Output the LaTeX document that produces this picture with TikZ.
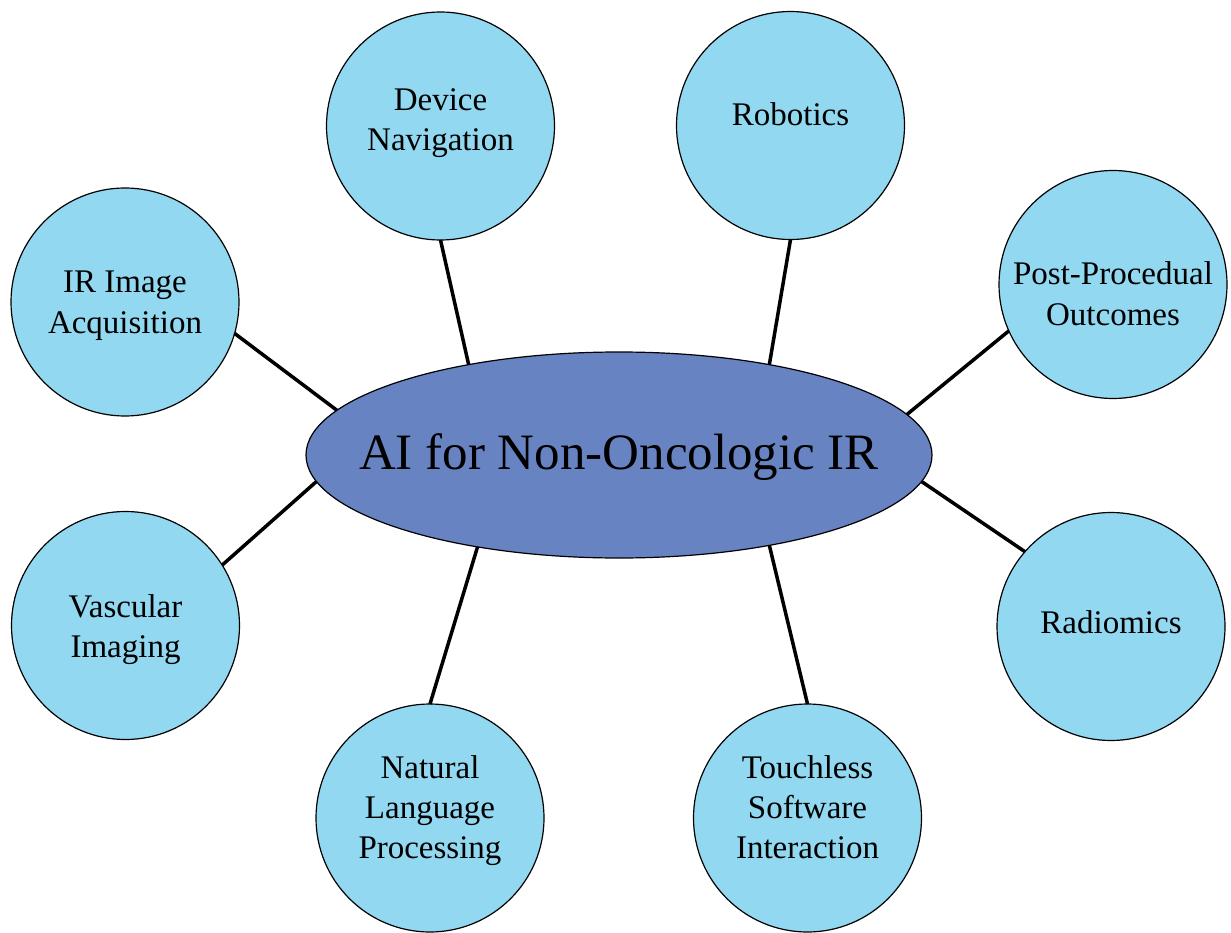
\documentclass[tikz,border=0pt]{standalone}
\usepackage{fontspec}
\setmainfont{Liberation Serif}
\usetikzlibrary{shapes.geometric}
\definecolor{topicfill}{HTML}{92D8F0}
\definecolor{corefill}{HTML}{6783C2}
\begin{document}
\begin{tikzpicture}[x=1pt,y=-1pt,
  topic/.style={circle,draw=black,line width=1.2pt,fill=topicfill,
    minimum size=228pt,inner sep=0pt,outer sep=0pt},
  core/.style={ellipse,draw=black,line width=1.2pt,fill=corefill,
    minimum width=626pt,minimum height=206pt,inner sep=0pt,outer sep=0pt},
  topictext/.style={align=center,inner sep=0pt,
    font=\fontsize{33}{40}\selectfont},
  coretext/.style={inner sep=0pt,font=\fontsize{51}{61}\selectfont},
  link/.style={draw=black,line width=3.5pt}]
\useasboundingbox (0,0) rectangle (1231,933);

% central topic
\node[core] (ai) at (619,455) {};
\node[coretext] (aitext) at (619,456.8) {\strut AI for Non-Oncologic IR};

% surrounding topics
\node[topic] (dev)  at (440.5,126)   {};
\node[topic] (rob)  at (790.5,125.5) {};
\node[topic] (ira)  at (125,302)     {};
\node[topic] (post) at (1113,284.5)  {};
\node[topic] (vas)  at (125.5,625.5) {};
\node[topic] (rad)  at (1111,626.5)  {};
\node[topic] (nlp)  at (430,818)     {};
\node[topic] (tsi)  at (807.5,818)   {};

\node[topictext] (devtext)  at (440.5,123) {\strut Device\\\strut Navigation};
\node[topictext] (robtext)  at (790.5,118) {\strut Robotics};
\node[topictext] (iratext)  at (125,305)   {\strut IR Image\\\strut Acquisition};
\node[topictext] (posttext) at (1113,297)  {\strut Post-Procedual\\\strut Outcomes};
\node[topictext] (vastext)  at (125.5,629) {\strut Vascular\\\strut Imaging};
\node[topictext] (radtext)  at (1111,625)  {\strut Radiomics};
\node[topictext] (nlptext)  at (430,810.5) {\strut Natural\\\strut Language\\\strut Processing};
\node[topictext] (tsitext)  at (807.5,810.5) {\strut Touchless\\\strut Software\\\strut Interaction};

% spokes
\draw[link] (dev.270)  -- (ai.149.8);
\draw[link] (rob.270)  -- (ai.31.8);
\draw[link] (ira.344)  -- (ai.171.5);
\draw[link] (post.204.8) -- (ai.8);
\draw[link] (vas.32.1) -- (ai.185.7);
\draw[link] (rad.139.1) -- (ai.355.3);
\draw[link] (nlp.90)   -- (ai.213.8);
\draw[link] (tsi.90)   -- (ai.329.2);
\end{tikzpicture}
\end{document}
